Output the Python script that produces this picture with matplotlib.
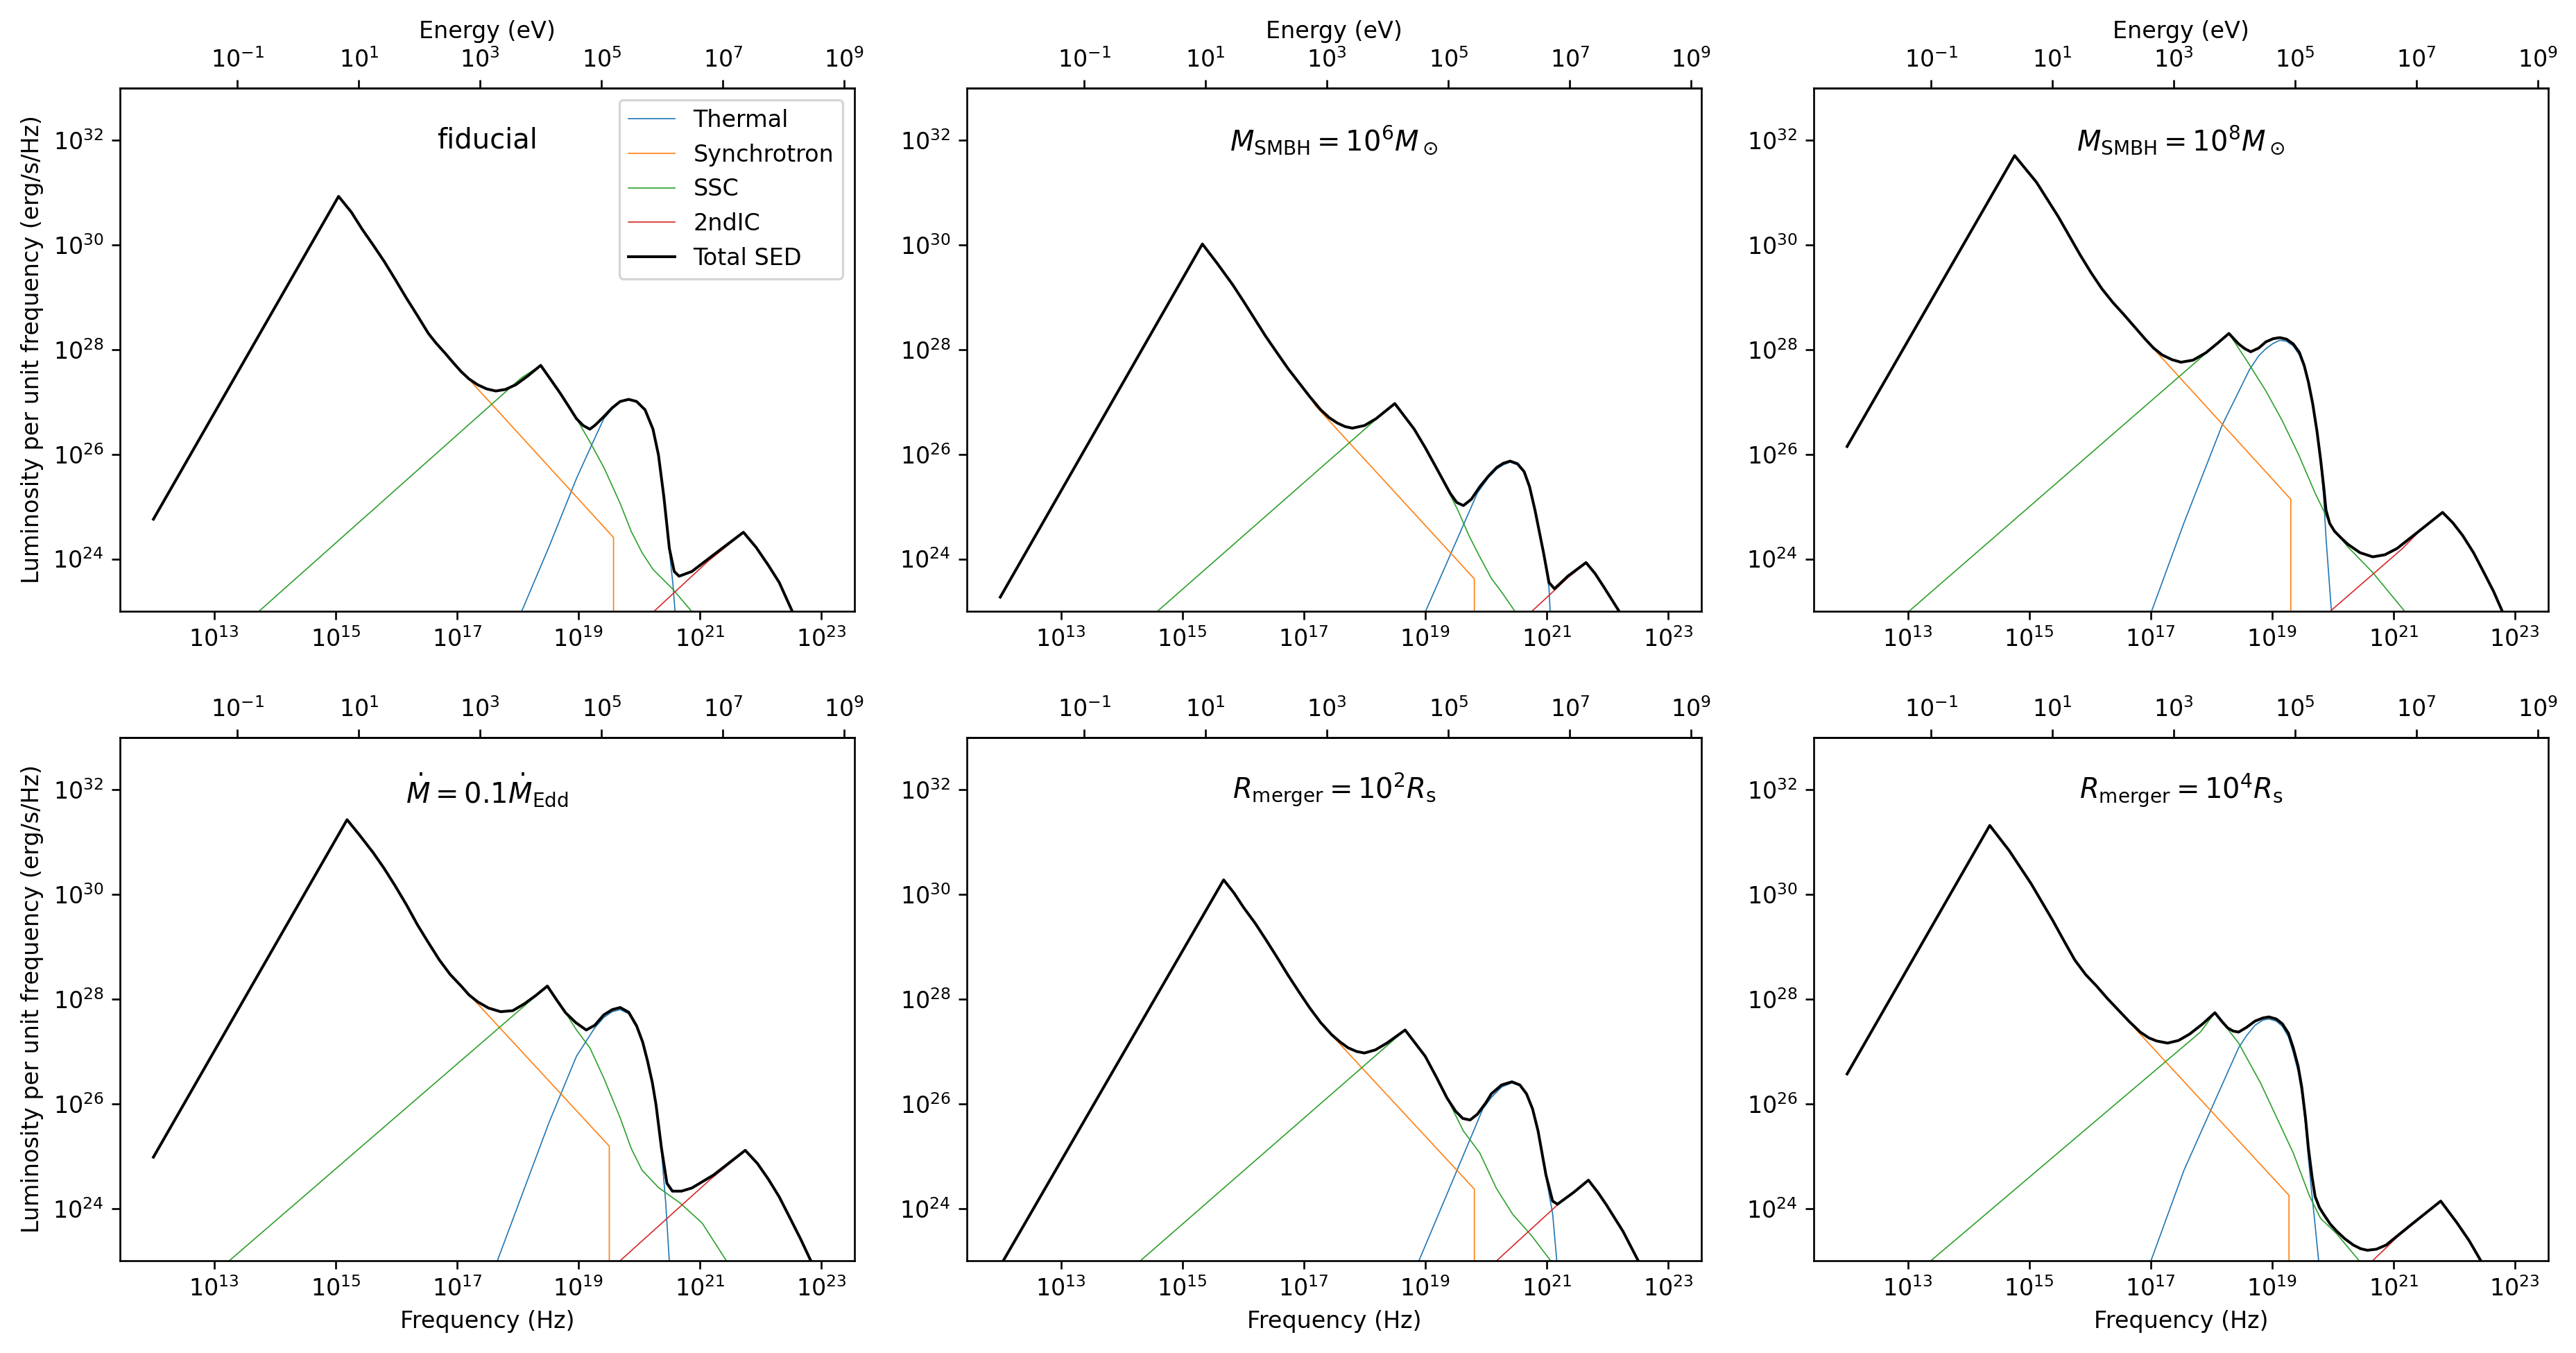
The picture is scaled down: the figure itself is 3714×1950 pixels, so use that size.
import numpy as np
import matplotlib
matplotlib.use("Agg")
import matplotlib.pyplot as plt
from matplotlib.ticker import NullLocator

h_eV = 4.135667e-15  # Planck constant, eV s

# all values below are log10(nu / Hz) and log10(L_nu / erg s^-1 Hz^-1)

# ---- fiducial ----
fid_tot_x = [12.0, 15.05, 15.26, 15.44, 15.62, 15.80, 15.98, 16.16, 16.35, 16.53, 16.66, 16.80, 16.94, 17.07, 17.20, 17.34, 17.49, 17.64, 17.80, 17.97, 18.17, 18.38, 18.55, 18.70, 18.85, 18.97, 19.08, 19.19, 19.28, 19.42, 19.56, 19.69, 19.83, 19.96, 20.10, 20.23, 20.32, 20.41, 20.50, 20.58, 20.66, 20.87, 21.23, 21.72, 21.93, 22.13, 22.31, 22.52, 22.70]
fid_tot_y = [24.76, 30.93, 30.63, 30.30, 30.00, 29.69, 29.35, 29.00, 28.65, 28.31, 28.12, 27.94, 27.75, 27.58, 27.44, 27.33, 27.25, 27.21, 27.24, 27.33, 27.50, 27.70, 27.42, 27.17, 26.90, 26.68, 26.55, 26.48, 26.56, 26.72, 26.89, 27.01, 27.05, 27.01, 26.85, 26.48, 25.99, 25.18, 24.20, 23.76, 23.67, 23.76, 24.08, 24.51, 24.22, 23.88, 23.55, 23.01, 22.60]
fid_syn_x = [12.0, 15.05, 15.26, 15.44, 15.62, 15.80, 15.98, 16.16, 16.35, 16.53, 16.66, 16.80, 16.94, 17.02, 19.58, 19.58]
fid_syn_y = [24.76, 30.93, 30.63, 30.30, 30.00, 29.69, 29.35, 29.00, 28.65, 28.31, 28.12, 27.94, 27.75, 27.66, 24.41, 15.0]
fid_ssc_x = [13.72, 18.06, 18.38, 18.70, 18.97, 19.19, 19.42, 19.69, 19.87, 20.05, 20.23, 20.55, 20.88]
fid_ssc_y = [22.98, 27.46, 27.70, 27.17, 26.68, 26.24, 25.75, 25.06, 24.53, 24.12, 23.80, 23.43, 22.98]
fid_th_x = [18.06, 18.52, 18.97, 19.28, 19.42, 19.56, 19.69, 19.83, 19.96, 20.10, 20.23, 20.32, 20.41, 20.50, 20.56, 20.60]
fid_th_y = [22.98, 24.24, 25.54, 26.33, 26.68, 26.87, 27.00, 27.04, 27.00, 26.84, 26.46, 25.97, 25.15, 24.15, 23.50, 22.90]
fid_ic_x = [20.23, 21.14, 21.72, 21.93, 22.13, 22.31, 22.52, 22.70]
fid_ic_y = [22.98, 23.96, 24.50, 24.22, 23.88, 23.55, 23.01, 22.60]

# ---- M_SMBH = 1e6 ----
m6_tot_x = [12.0, 15.33, 15.58, 15.83, 16.01, 16.19, 16.37, 16.56, 16.74, 16.92, 17.10, 17.28, 17.42, 17.55, 17.68, 17.80, 18.00, 18.19, 18.50, 18.82, 19.00, 19.18, 19.41, 19.52, 19.63, 19.76, 19.90, 20.04, 20.18, 20.29, 20.40, 20.52, 20.63, 20.72, 20.81, 20.95, 21.04, 21.13, 21.35, 21.65, 21.80, 21.94, 22.19, 22.40]
m6_tot_y = [23.27, 30.02, 29.64, 29.24, 28.92, 28.59, 28.26, 27.94, 27.64, 27.37, 27.10, 26.85, 26.70, 26.60, 26.53, 26.50, 26.55, 26.68, 26.97, 26.48, 26.13, 25.75, 25.26, 25.08, 25.02, 25.14, 25.38, 25.58, 25.75, 25.83, 25.87, 25.82, 25.67, 25.38, 24.93, 24.12, 23.55, 23.43, 23.67, 23.93, 23.72, 23.47, 23.01, 22.60]
m6_syn_x = [12.0, 15.33, 15.58, 15.83, 16.01, 16.19, 16.37, 16.56, 16.74, 16.92, 17.10, 17.19, 19.81, 19.81]
m6_syn_y = [23.27, 30.02, 29.64, 29.24, 28.92, 28.59, 28.26, 27.94, 27.64, 27.37, 27.10, 26.93, 23.62, 15.0]
m6_ssc_x = [14.57, 18.28, 18.50, 18.82, 19.18, 19.54, 19.72, 19.90, 20.09, 20.27, 20.49]
m6_ssc_y = [22.98, 26.76, 26.97, 26.48, 25.75, 24.93, 24.45, 24.04, 23.63, 23.35, 22.98]
m6_th_x = [19.0, 19.86, 20.04, 20.18, 20.29, 20.40, 20.52, 20.63, 20.72, 20.81, 20.95, 21.04, 21.06]
m6_th_y = [22.98, 25.26, 25.55, 25.72, 25.80, 25.85, 25.80, 25.65, 25.36, 24.90, 24.08, 23.45, 22.98]
m6_ic_x = [20.74, 21.13, 21.35, 21.65, 21.80, 21.94, 22.19, 22.40]
m6_ic_y = [22.98, 23.40, 23.64, 23.92, 23.72, 23.47, 23.01, 22.60]

# ---- M_SMBH = 1e8 ----
m8_tot_x = [12.0, 14.76, 15.12, 15.48, 15.84, 16.02, 16.20, 16.38, 16.56, 16.74, 16.92, 17.05, 17.19, 17.35, 17.50, 17.70, 17.91, 18.10, 18.29, 18.45, 18.55, 18.65, 18.78, 18.90, 19.02, 19.13, 19.24, 19.35, 19.45, 19.53, 19.60, 19.67, 19.74, 19.80, 19.85, 19.89, 19.95, 20.03, 20.14, 20.25, 20.45, 20.66, 20.86, 21.06, 21.42, 21.81, 21.98, 22.14, 22.32, 22.50, 22.65, 22.79, 22.90]
m8_tot_y = [26.15, 31.71, 31.20, 30.54, 29.81, 29.47, 29.16, 28.90, 28.67, 28.43, 28.19, 28.03, 27.90, 27.81, 27.76, 27.80, 27.94, 28.12, 28.31, 28.11, 28.02, 27.96, 28.03, 28.15, 28.21, 28.23, 28.20, 28.11, 27.95, 27.70, 27.38, 26.97, 26.45, 25.91, 25.40, 24.93, 24.68, 24.53, 24.40, 24.28, 24.12, 24.04, 24.08, 24.20, 24.53, 24.89, 24.69, 24.45, 24.12, 23.72, 23.38, 23.01, 22.70]
m8_syn_x = [12.0, 14.76, 15.12, 15.48, 15.84, 16.02, 16.20, 16.38, 16.56, 16.74, 16.96, 19.31, 19.31]
m8_syn_y = [26.15, 31.71, 31.20, 30.54, 29.81, 29.47, 29.16, 28.90, 28.67, 28.43, 28.13, 25.14, 15.0]
m8_ssc_x = [13.0, 18.0, 18.29, 18.59, 18.90, 19.17, 19.44, 19.71, 19.98, 20.25, 20.66, 21.20]
m8_ssc_y = [22.98, 28.02, 28.31, 27.78, 27.21, 26.64, 25.99, 25.26, 24.61, 24.23, 23.74, 22.98]
m8_th_x = [17.01, 17.55, 18.18, 18.63, 18.78, 18.90, 19.02, 19.13, 19.24, 19.35, 19.45, 19.53, 19.60, 19.67, 19.74, 19.80, 19.85, 19.89, 19.98]
m8_th_y = [22.98, 24.69, 26.56, 27.62, 27.88, 28.02, 28.12, 28.18, 28.16, 28.07, 27.90, 27.66, 27.35, 26.94, 26.42, 25.85, 25.20, 24.40, 22.98]
m8_ic_x = [19.94, 21.15, 21.42, 21.81, 21.98, 22.14, 22.32, 22.50, 22.65, 22.79, 22.90]
m8_ic_y = [22.98, 24.20, 24.52, 24.89, 24.69, 24.45, 24.12, 23.72, 23.38, 23.01, 22.70]

# ---- Mdot = 0.1 Mdot_Edd ----
md_tot_x = [12.0, 15.19, 15.40, 15.62, 15.80, 15.98, 16.17, 16.35, 16.53, 16.71, 16.89, 17.07, 17.20, 17.34, 17.52, 17.72, 17.92, 18.11, 18.30, 18.49, 18.64, 18.79, 18.96, 19.13, 19.27, 19.42, 19.56, 19.69, 19.83, 19.96, 20.06, 20.14, 20.22, 20.28, 20.37, 20.46, 20.55, 20.70, 20.87, 21.23, 21.75, 21.95, 22.13, 22.31, 22.49, 22.66, 22.83, 22.95]
md_tot_y = [24.98, 31.43, 31.13, 30.80, 30.50, 30.17, 29.80, 29.42, 29.08, 28.75, 28.47, 28.25, 28.08, 27.95, 27.83, 27.76, 27.78, 27.91, 28.07, 28.25, 27.99, 27.74, 27.55, 27.41, 27.50, 27.70, 27.80, 27.84, 27.75, 27.49, 27.18, 26.82, 26.40, 25.98, 25.15, 24.48, 24.33, 24.33, 24.39, 24.64, 25.11, 24.86, 24.56, 24.22, 23.81, 23.42, 23.00, 22.70]
md_syn_x = [12.0, 15.19, 15.40, 15.62, 15.80, 15.98, 16.17, 16.35, 16.53, 16.71, 16.89, 17.11, 19.51, 19.51]
md_syn_y = [24.98, 31.43, 31.13, 30.80, 30.50, 30.17, 29.80, 29.42, 29.08, 28.75, 28.47, 28.20, 25.19, 15.0]
md_ssc_x = [13.23, 18.15, 18.49, 18.79, 18.97, 19.19, 19.42, 19.69, 19.87, 20.05, 20.32, 20.68, 21.04, 21.45]
md_ssc_y = [22.98, 27.91, 28.25, 27.74, 27.41, 27.07, 26.49, 25.73, 25.15, 24.73, 24.40, 24.10, 23.72, 22.98]
md_th_x = [17.66, 18.52, 18.97, 19.27, 19.42, 19.56, 19.69, 19.83, 19.96, 20.06, 20.14, 20.22, 20.28, 20.37, 20.44, 20.50]
md_th_y = [22.98, 25.65, 26.91, 27.45, 27.65, 27.76, 27.80, 27.72, 27.46, 27.15, 26.79, 26.37, 25.95, 25.10, 24.10, 22.98]
md_ic_x = [19.67, 21.18, 21.75, 21.95, 22.13, 22.31, 22.49, 22.66, 22.83, 22.95]
md_ic_y = [22.98, 24.56, 25.10, 24.86, 24.56, 24.22, 23.81, 23.42, 23.00, 22.70]

# ---- R_merger = 1e2 R_s ----
r2_tot_x = [12.0, 15.68, 15.85, 16.01, 16.20, 16.38, 16.56, 16.74, 16.92, 17.10, 17.28, 17.46, 17.60, 17.73, 17.87, 18.00, 18.18, 18.37, 18.67, 19.00, 19.18, 19.36, 19.50, 19.62, 19.74, 19.86, 20.00, 20.09, 20.26, 20.43, 20.56, 20.67, 20.77, 20.86, 20.99, 21.10, 21.18, 21.45, 21.69, 21.85, 21.99, 22.26, 22.51, 22.65]
r2_tot_y = [22.90, 30.28, 30.03, 29.75, 29.45, 29.13, 28.80, 28.46, 28.14, 27.83, 27.55, 27.32, 27.18, 27.07, 27.00, 26.97, 27.03, 27.16, 27.41, 26.91, 26.52, 26.11, 25.86, 25.72, 25.69, 25.80, 26.02, 26.19, 26.36, 26.42, 26.36, 26.19, 25.90, 25.48, 24.64, 24.14, 24.08, 24.31, 24.54, 24.30, 24.06, 23.56, 23.00, 22.70]
r2_syn_x = [12.0, 15.68, 15.85, 16.01, 16.20, 16.38, 16.56, 16.74, 16.92, 17.10, 17.28, 17.42, 19.81, 19.81]
r2_syn_y = [22.90, 30.28, 30.03, 29.75, 29.45, 29.13, 28.80, 28.46, 28.14, 27.83, 27.55, 27.36, 24.37, 15.0]
r2_ssc_x = [14.29, 18.46, 18.67, 19.00, 19.36, 19.63, 19.90, 20.17, 20.44, 20.76, 21.08]
r2_ssc_y = [22.98, 27.20, 27.41, 26.91, 26.11, 25.48, 25.06, 24.39, 23.89, 23.47, 22.98]
r2_th_x = [18.89, 19.95, 20.09, 20.26, 20.43, 20.56, 20.67, 20.77, 20.86, 20.99, 21.10, 21.17]
r2_th_y = [22.98, 25.90, 26.12, 26.32, 26.40, 26.34, 26.17, 25.88, 25.46, 24.60, 23.90, 22.98]
r2_ic_x = [20.16, 21.22, 21.45, 21.69, 21.85, 21.99, 22.26, 22.51, 22.65]
r2_ic_y = [22.98, 24.11, 24.30, 24.53, 24.30, 24.06, 23.56, 23.00, 22.70]

# ---- R_merger = 1e4 R_s ----
r4_tot_x = [12.0, 14.35, 14.67, 15.03, 15.39, 15.57, 15.75, 15.93, 16.11, 16.29, 16.47, 16.65, 16.83, 16.97, 17.10, 17.28, 17.46, 17.64, 17.85, 18.06, 18.17, 18.27, 18.36, 18.45, 18.58, 18.72, 18.85, 18.95, 19.07, 19.17, 19.27, 19.35, 19.43, 19.49, 19.55, 19.60, 19.66, 19.71, 19.78, 19.85, 19.96, 20.07, 20.20, 20.34, 20.46, 20.57, 20.72, 20.88, 21.24, 21.78, 22.05, 22.25, 22.44, 22.60]
r4_tot_y = [26.57, 31.32, 30.84, 30.21, 29.50, 29.12, 28.75, 28.47, 28.25, 28.01, 27.79, 27.57, 27.37, 27.26, 27.20, 27.16, 27.21, 27.33, 27.52, 27.74, 27.58, 27.45, 27.39, 27.37, 27.46, 27.58, 27.64, 27.66, 27.62, 27.53, 27.35, 27.07, 26.72, 26.32, 25.75, 25.15, 24.60, 24.23, 24.02, 23.89, 23.70, 23.56, 23.42, 23.30, 23.23, 23.20, 23.22, 23.30, 23.64, 24.14, 23.72, 23.38, 23.00, 22.70]
r4_syn_x = [12.0, 14.35, 14.67, 15.03, 15.39, 15.57, 15.75, 15.93, 16.11, 16.29, 16.47, 16.67, 19.28, 19.28]
r4_syn_y = [26.57, 31.32, 30.84, 30.21, 29.50, 29.12, 28.75, 28.47, 28.25, 28.01, 27.79, 27.53, 24.25, 15.0]
r4_ssc_x = [13.36, 17.82, 18.06, 18.45, 18.81, 19.08, 19.35, 19.62, 19.80, 20.07, 20.45]
r4_ssc_y = [22.98, 27.37, 27.74, 27.16, 26.40, 25.73, 25.06, 24.23, 23.81, 23.51, 22.98]
r4_th_x = [17.0, 17.55, 18.00, 18.45, 18.58, 18.72, 18.85, 18.95, 19.07, 19.17, 19.27, 19.35, 19.43, 19.49, 19.55, 19.60, 19.65, 19.70, 19.77]
r4_th_y = [22.98, 24.73, 25.90, 27.07, 27.30, 27.50, 27.60, 27.62, 27.58, 27.48, 27.28, 26.98, 26.62, 26.20, 25.62, 24.95, 24.35, 23.80, 22.98]
r4_ic_x = [20.64, 21.06, 21.24, 21.78, 22.05, 22.25, 22.44, 22.60]
r4_ic_y = [22.98, 23.45, 23.62, 24.14, 23.72, 23.38, 23.00, 22.70]

panel_labels = ["fiducial",
                r"$M_{\rm SMBH}=10^6M_\odot$",
                r"$M_{\rm SMBH}=10^8M_\odot$",
                r"$\dot{M}=0.1\dot{M}_{\rm Edd}$",
                r"$R_{\rm merger}=10^2R_{\rm s}$",
                r"$R_{\rm merger}=10^4R_{\rm s}$"]

panels = [
    (fid_th_x, fid_th_y, fid_syn_x, fid_syn_y, fid_ssc_x, fid_ssc_y, fid_ic_x, fid_ic_y, fid_tot_x, fid_tot_y),
    (m6_th_x, m6_th_y, m6_syn_x, m6_syn_y, m6_ssc_x, m6_ssc_y, m6_ic_x, m6_ic_y, m6_tot_x, m6_tot_y),
    (m8_th_x, m8_th_y, m8_syn_x, m8_syn_y, m8_ssc_x, m8_ssc_y, m8_ic_x, m8_ic_y, m8_tot_x, m8_tot_y),
    (md_th_x, md_th_y, md_syn_x, md_syn_y, md_ssc_x, md_ssc_y, md_ic_x, md_ic_y, md_tot_x, md_tot_y),
    (r2_th_x, r2_th_y, r2_syn_x, r2_syn_y, r2_ssc_x, r2_ssc_y, r2_ic_x, r2_ic_y, r2_tot_x, r2_tot_y),
    (r4_th_x, r4_th_y, r4_syn_x, r4_syn_y, r4_ssc_x, r4_ssc_y, r4_ic_x, r4_ic_y, r4_tot_x, r4_tot_y),
]

nu_ticks = [1e13, 1e15, 1e17, 1e19, 1e21, 1e23]
E_ticks = [1e-1, 1e1, 1e3, 1e5, 1e7, 1e9]
L_ticks = [1e24, 1e26, 1e28, 1e30, 1e32]

fig, axes = plt.subplots(2, 3, figsize=(15.475, 8.125))
fig.subplots_adjust(left=0.0466, right=0.9892, top=0.9349, bottom=0.0682,
                    wspace=0.153, hspace=0.2414)

for i, ax in enumerate(axes.flat):
    thx, thy, syx, syy, scx, scy, icx, icy, tx, ty = panels[i]
    p = lambda v: 10 ** np.array(v)
    ax.plot(p(thx), p(thy), color="C0", lw=0.5, label="Thermal")
    ax.plot(p(syx), p(syy), color="C1", lw=0.5, label="Synchrotron")
    ax.plot(p(scx), p(scy), color="C2", lw=0.5, label="SSC")
    ax.plot(p(icx), p(icy), color="C3", lw=0.5, label="2ndIC")
    ax.plot(p(tx), p(ty), color="black", lw=1.2, label="Total SED")
    ax.set_xscale("log")
    ax.set_yscale("log")
    ax.set_xlim(10 ** 11.45, 10 ** 23.55)
    ax.set_ylim(1e23, 1e33)
    ax.set_xticks(nu_ticks)
    ax.set_yticks(L_ticks)
    ax.xaxis.set_minor_locator(NullLocator())
    ax.yaxis.set_minor_locator(NullLocator())

    sec = ax.secondary_xaxis("top", functions=(lambda nu: nu * h_eV, lambda E: E / h_eV))
    sec.set_xticks(E_ticks)
    sec.xaxis.set_minor_locator(NullLocator())

    ax.text(0.5, 0.9, panel_labels[i], transform=ax.transAxes,
            ha="center", va="center", fontsize=12)

    if i < 3:
        sec.set_xlabel("Energy (eV)")
    else:
        ax.set_xlabel("Frequency (Hz)")
    if i % 3 == 0:
        ax.set_ylabel("Luminosity per unit frequency (erg/s/Hz)")
    if i == 0:
        ax.legend(loc="upper right")

fig.savefig("out.png", dpi=240)
